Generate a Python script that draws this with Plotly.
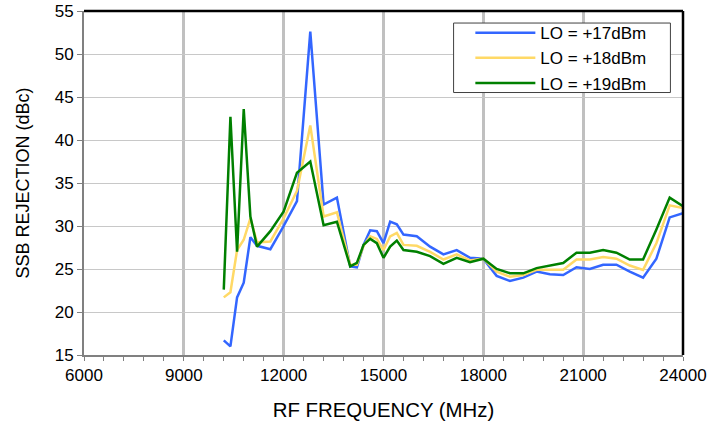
import plotly.graph_objects as go

freq_mhz = [10200, 10400, 10600, 10800, 11000, 11200, 11600, 12000, 12400, 12800,
            13200, 13600, 14000, 14200, 14400, 14600, 14800, 15000, 15200, 15400,
            15600, 16000, 16400, 16800, 17200, 17600, 18000, 18400, 18800, 19200,
            19600, 20000, 20400, 20800, 21200, 21600, 22000, 22400, 22800, 23200,
            23600, 24000]

lo_17dbm = [16.7, 16.0, 21.7, 23.4, 28.7, 27.7, 27.3, 30.0, 32.9, 52.6,
            32.5, 33.3, 25.3, 25.2, 27.8, 29.5, 29.4, 28.0, 30.5, 30.2,
            29.0, 28.8, 27.6, 26.7, 27.2, 26.3, 26.2, 24.2, 23.6, 24.0,
            24.7, 24.4, 24.3, 25.2, 25.0, 25.5, 25.5, 24.7, 24.0, 26.2,
            31.0, 31.5]

lo_18dbm = [21.7, 22.3, 27.2, 28.4, 30.9, 28.1, 28.2, 30.9, 34.1, 41.7,
            31.1, 31.6, 25.5, 25.5, 27.7, 28.8, 28.5, 27.2, 28.8, 29.2,
            27.8, 27.7, 27.0, 26.1, 26.7, 26.0, 26.2, 24.7, 24.1, 24.3,
            24.9, 24.9, 24.9, 26.1, 26.1, 26.4, 26.2, 25.4, 24.9, 28.0,
            32.4, 32.1]

lo_19dbm = [22.6, 42.7, 27.0, 43.6, 31.1, 27.6, 29.4, 31.7, 36.2, 37.5,
            30.1, 30.5, 25.3, 25.7, 27.8, 28.5, 28.0, 26.3, 27.6, 28.3,
            27.2, 27.0, 26.5, 25.6, 26.3, 25.8, 26.2, 25.0, 24.5, 24.5,
            25.1, 25.4, 25.7, 26.9, 26.9, 27.2, 26.9, 26.1, 26.1, 29.6,
            33.3, 32.3]

series_names = ["LO = +17dBm", "LO = +18dBm", "LO = +19dBm"]
series_values = [lo_17dbm, lo_18dbm, lo_19dbm]
series_colors = ["#3366FF", "#FFD966", "#008000"]

x_ticks = [6000, 9000, 12000, 15000, 18000, 21000, 24000]
y_ticks = [15, 20, 25, 30, 35, 40, 45, 50, 55]

FONT = "Liberation Sans, Arial, sans-serif"

fig = go.Figure()
for name, vals, col in zip(series_names, series_values, series_colors):
    fig.add_trace(go.Scatter(x=freq_mhz, y=vals, mode="lines", name=name,
                             line=dict(color=col, width=2.5)))

fig.update_layout(
    width=724, height=423,
    margin=dict(l=83.5, r=41.3, t=11.3, b=67.7),
    paper_bgcolor="white", plot_bgcolor="white",
    font=dict(family=FONT, color="black", size=17),
    showlegend=True,
    legend=dict(x=0.645, y=0.988, xanchor="left", yanchor="top",
                bgcolor="rgba(0,0,0,0)", borderwidth=0,
                font=dict(size=17), itemwidth=60, tracegroupgap=0),
    xaxis=dict(range=[6000, 24000], tickvals=x_ticks, ticktext=[str(v) for v in x_ticks],
               showgrid=True, gridcolor="#C0C0C0", gridwidth=2.5,
               showline=True, linecolor="#808080", linewidth=2,
               ticks="outside", ticklen=4, tickcolor="#808080", tickwidth=1,
               minor=dict(dtick=600, tick0=6000, ticks="outside", ticklen=4,
                          tickcolor="#808080", showgrid=False),
               zeroline=False, ticklabeloverflow="allow", automargin=False,
               title=dict(text="RF FREQUENCY (MHz)", font=dict(size=20.4), standoff=18)),
    yaxis=dict(range=[15, 55], tickvals=y_ticks,
               showgrid=True, gridcolor="#C8C8C8", gridwidth=1.3,
               showline=True, linecolor="#808080", linewidth=2,
               ticks="outside", ticklen=5, tickcolor="#808080", tickwidth=1,
               zeroline=False, ticklabeloverflow="allow", automargin=False,
               title=dict(text="SSB REJECTION (dBc)", font=dict(size=18), standoff=20)),
)

# legend frame
fig.add_shape(type="rect", xref="paper", yref="paper", x0=0.617, x1=0.979, y0=0.763, y1=0.965,
              fillcolor="white", line=dict(color="#404040", width=1), layer="above")
# black frame on top and right
fig.add_shape(type="line", xref="paper", yref="paper", x0=0, x1=1, y0=1, y1=1,
              line=dict(color="black", width=2.5))
fig.add_shape(type="line", xref="paper", yref="paper", x0=1, x1=1, y0=0, y1=1,
              line=dict(color="black", width=2.5))

fig.write_html("out.html", config={"displayModeBar": False},
               post_script="document.body.style.margin='0';")
